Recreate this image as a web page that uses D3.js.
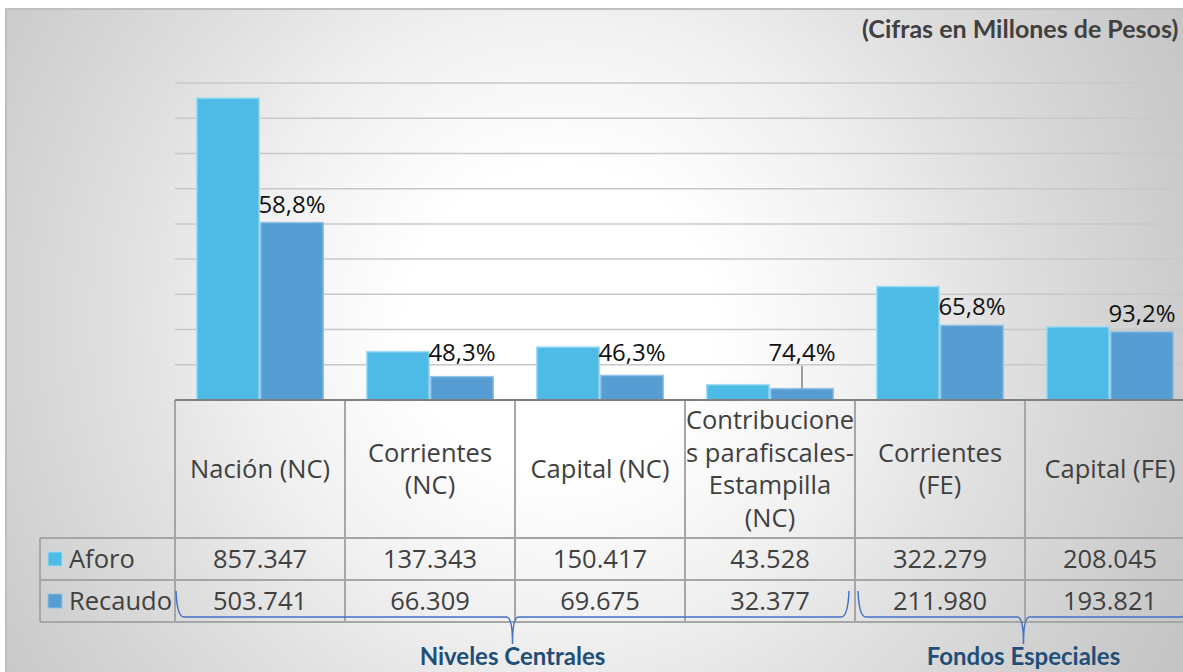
<!DOCTYPE html>
<html lang="es">
<head>
<meta charset="UTF-8">
<title>Aforo y Recaudo</title>
<script src="https://cdn.jsdelivr.net/npm/d3@7"></script>
<style>
  body { margin: 0; background: #fff; }
  svg { display: block; font-family: "Open Sans", sans-serif; }
  .grid line { stroke: #c8c8c8; stroke-width: 1.5px; }
  .cell-line { stroke: #a6a6a6; stroke-width: 2px; }
  .tbl { fill: #404040; font-size: 25.5px; }
  .pct { fill: #111; font-size: 24px; }
  .title { fill: #404040; font-family: Lato, sans-serif; font-weight: bold; font-size: 25px; }
  .group-label { fill: #1f4e79; font-family: Lato, sans-serif; font-weight: bold; font-size: 24px; }
  .brace { fill: none; stroke: #4472c4; stroke-width: 1.5px; }
</style>
</head>
<body>
<svg width="1183" height="672"></svg>
<script>
// categorias (encabezados de la tabla, ya partidos en lineas)
const categories = [
  ["Nación (NC)"],
  ["Corrientes", "(NC)"],
  ["Capital (NC)"],
  ["Contribucione", "s parafiscales-", "Estampilla", "(NC)"],
  ["Corrientes", "(FE)"],
  ["Capital (FE)"]
];
const series = ["Aforo", "Recaudo"];
const aforo   = [857347, 137343, 150417, 43528, 322279, 208045];
const recaudo = [503741, 66309, 69675, 32377, 211980, 193821];
const groups = [
  {label: "Niveles Centrales", from: 0, to: 3},
  {label: "Fondos Especiales", from: 4, to: 5}
];
const colors = {Aforo: "#4dbbe6", Recaudo: "#559dd2"};
const borders = {Aforo: "#a3dcf2", Recaudo: "#93c2e6"};

const svg = d3.select("svg"),
    width = +svg.attr("width"),
    height = +svg.attr("height");

const left = 175, colW = 170, base = 400, yTop = 83;
const headBottom = 538, rowH = 42, legendLeft = 40;
const right = left + colW * categories.length;

const x0 = d3.scaleBand().domain(d3.range(categories.length)).range([left, right]);
const x1 = d3.scaleBand().domain(series).range([0, x0.bandwidth()]).paddingOuter(0.328);
const y = d3.scaleLinear().domain([0, 900000]).range([base, yTop]);

const es = d3.formatLocale({decimal: ",", thousands: ".", grouping: [3], currency: ["$", ""]});
const fmtNum = es.format(",d");
const fmtPct = v => es.format(".1f")(v * 100) + "%";

// fondo con degradado radial
const defs = svg.append("defs");
const grad = defs.append("radialGradient")
    .attr("id", "bg")
    .attr("gradientUnits", "userSpaceOnUse")
    .attr("cx", 560).attr("cy", 320).attr("r", 800);
[[0, "#ffffff"], [0.19, "#ffffff"], [0.39, "#f0f0f0"], [0.55, "#e0e0e0"], [0.78, "#cccccc"], [1, "#bcbcbc"]]
  .forEach(([o, c]) => grad.append("stop").attr("offset", o).attr("stop-color", c));

svg.append("rect")
    .attr("x", 6).attr("y", 9)
    .attr("width", 1400).attr("height", 900)
    .attr("fill", "url(#bg)")
    .attr("stroke", "#bfbfbf")
    .attr("stroke-width", 2);

svg.append("text")
    .attr("class", "title")
    .attr("x", 862).attr("y", 38)
    .text("(Cifras en Millones de Pesos)");

// lineas de cuadricula
svg.append("g")
    .attr("class", "grid")
    .selectAll("line")
    .data(y.ticks(9).filter(d => d > 0))
    .join("line")
    .attr("x1", left).attr("x2", right)
    .attr("y1", d => y(d)).attr("y2", d => y(d));

// barras
const rows = categories.map((c, i) => ({i, Aforo: aforo[i], Recaudo: recaudo[i]}));

svg.append("g")
    .selectAll("g")
    .data(rows)
    .join("g")
    .attr("transform", d => `translate(${x0(d.i)},0)`)
    .selectAll("rect")
    .data(d => series.map(s => ({s, v: d[s]})))
    .join("rect")
    .attr("x", d => x1(d.s) + 0.75)
    .attr("width", x1.bandwidth() - 1.5)
    .attr("y", d => y(d.v))
    .attr("height", d => base - y(d.v))
    .attr("fill", d => colors[d.s])
    .attr("stroke", d => borders[d.s])
    .attr("stroke-width", 1.5);

// etiquetas de porcentaje (recaudo / aforo)
const lab = svg.append("g");
rows.forEach(d => {
  const cx = x0(d.i) + x1("Recaudo") + x1.bandwidth() / 2;
  const barTop = y(d.Recaudo);
  const ty = Math.min(barTop - 10, 361);
  lab.append("text")
      .attr("class", "pct")
      .attr("x", cx).attr("y", ty)
      .attr("text-anchor", "middle")
      .text(fmtPct(d.Recaudo / d.Aforo));
  if (barTop - ty > 20) {
    lab.append("line")
        .attr("x1", cx).attr("x2", cx)
        .attr("y1", ty + 5).attr("y2", barTop)
        .attr("stroke", "#808080").attr("stroke-width", 1.5);
  }
});

// tabla de datos
const tbl = svg.append("g");
[headBottom, headBottom + rowH, headBottom + 2 * rowH].forEach(yy => {
  tbl.append("line").attr("class", "cell-line")
      .attr("x1", legendLeft).attr("x2", right).attr("y1", yy).attr("y2", yy);
});
tbl.append("line").attr("class", "cell-line")
    .attr("x1", legendLeft).attr("x2", legendLeft)
    .attr("y1", headBottom).attr("y2", headBottom + 2 * rowH);
d3.range(categories.length + 1).forEach(i => {
  const xx = left + i * colW;
  tbl.append("line").attr("class", "cell-line")
      .attr("x1", xx).attr("x2", xx)
      .attr("y1", base).attr("y2", headBottom + 2 * rowH);
});
// eje
tbl.append("line")
    .attr("x1", left).attr("x2", right)
    .attr("y1", base).attr("y2", base)
    .attr("stroke", "#7f7f7f").attr("stroke-width", 2);

const headMid = (base + headBottom) / 2;
categories.forEach((lines, i) => {
  const cx = x0(i) + x0.bandwidth() / 2;
  const t = tbl.append("text")
      .attr("class", "tbl")
      .attr("text-anchor", "middle");
  lines.forEach((ln, j) => {
    t.append("tspan")
        .attr("x", cx)
        .attr("y", headMid + 9 + (j - (lines.length - 1) / 2) * 32.5)
        .text(ln);
  });
  series.forEach((s, k) => {
    tbl.append("text")
        .attr("class", "tbl")
        .attr("text-anchor", "middle")
        .attr("x", cx)
        .attr("y", headBottom + rowH * k + rowH / 2 + 9)
        .text(fmtNum(s === "Aforo" ? aforo[i] : recaudo[i]));
  });
});

// leyenda dentro de la tabla
series.forEach((s, k) => {
  const ry = headBottom + rowH * k;
  tbl.append("rect")
      .attr("x", 48).attr("y", ry + 14)
      .attr("width", 14).attr("height", 14)
      .attr("fill", colors[s])
      .attr("stroke", borders[s]).attr("stroke-width", 1);
  tbl.append("text")
      .attr("class", "tbl")
      .attr("x", 69).attr("y", ry + rowH / 2 + 9)
      .text(s);
});

// llaves de agrupacion
groups.forEach((g, k) => {
  const xa = x0(g.from) + 1 + k * 2;
  const xb = x0(g.to) + x0.bandwidth() - 6;
  const mid = (xa + xb) / 2;
  const ya = 591, hy = 617, tip = 644;
  const p = d3.path();
  p.moveTo(xa, ya);
  p.quadraticCurveTo(xa + 1, hy, xa + 8, hy);
  p.lineTo(mid - 6, hy);
  p.quadraticCurveTo(mid, hy, mid, tip);
  p.quadraticCurveTo(mid, hy, mid + 6, hy);
  p.lineTo(xb - 8, hy);
  p.quadraticCurveTo(xb - 1, hy, xb, ya);
  svg.append("path").attr("class", "brace").attr("d", p.toString());
  svg.append("text")
      .attr("class", "group-label")
      .attr("x", mid).attr("y", 665)
      .attr("text-anchor", "middle")
      .text(g.label);
});
</script>
</body>
</html>
